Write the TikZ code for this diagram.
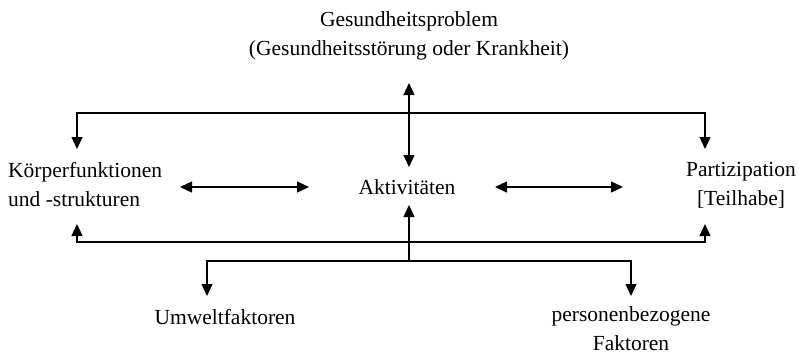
\documentclass[tikz,border=0pt]{standalone}
\usepackage{fontspec}
\setmainfont{Liberation Serif}
\usetikzlibrary{arrows.meta}
\begin{document}
\begin{tikzpicture}[x=1pt,y=-1pt,
  conn/.style={line width=1.3pt, -{Triangle[length=12pt,width=11pt]}},
  both/.style={line width=1.3pt, {Triangle[length=12pt,width=11pt]}-{Triangle[length=12pt,width=11pt]}},
  lbl/.style={font=\fontsize{21.5}{29}\selectfont, inner sep=0pt, align=center}]
\useasboundingbox (0,0) rectangle (799,354);

% text nodes
\node[lbl] (ges) at (409,36) {Gesundheitsproblem\\(Gesundheitsstörung oder Krankheit)};
\node[lbl, align=left, anchor=west] (koe) at (8,185) {Körperfunktionen\\und -strukturen};
\node[lbl] (akt) at (407,187) {Aktivitäten};
\node[lbl] (par) at (741,185) {Partizipation\\{[Teilhabe]}};
\node[lbl] (umw) at (225,317) {Umweltfaktoren};
\node[lbl] (pers) at (631,329) {personenbezogene\\Faktoren};

% connector points
\coordinate (gBot) at (409,83);
\coordinate (aTop) at (409,167);
\coordinate (topJ) at (409,113);
\coordinate (kTop) at (77,149);
\coordinate (pTop) at (705,149);
\coordinate (botJ) at (409,242);
\coordinate (kBot) at (77,224);
\coordinate (pBot) at (705,224);
\coordinate (brJ) at (409,261);
\coordinate (aBot) at (409,205);
\coordinate (uTop) at (207,296);
\coordinate (pfTop) at (631,296);
\coordinate (kR) at (180,187);
\coordinate (aL) at (309,187);
\coordinate (aR) at (495,187);
\coordinate (pL) at (623,187);

% connectors
\draw[both] (gBot) -- (aTop);
\draw[conn] (topJ) -| (kTop);
\draw[conn] (topJ) -| (pTop);
\draw[both] (kR) -- (aL);
\draw[both] (aR) -- (pL);
\draw[conn] (botJ) -| (kBot);
\draw[conn] (botJ) -| (pBot);
\draw[conn] (brJ) -- (aBot);
\draw[conn] (brJ) -| (uTop);
\draw[conn] (brJ) -| (pfTop);
\end{tikzpicture}
\end{document}
